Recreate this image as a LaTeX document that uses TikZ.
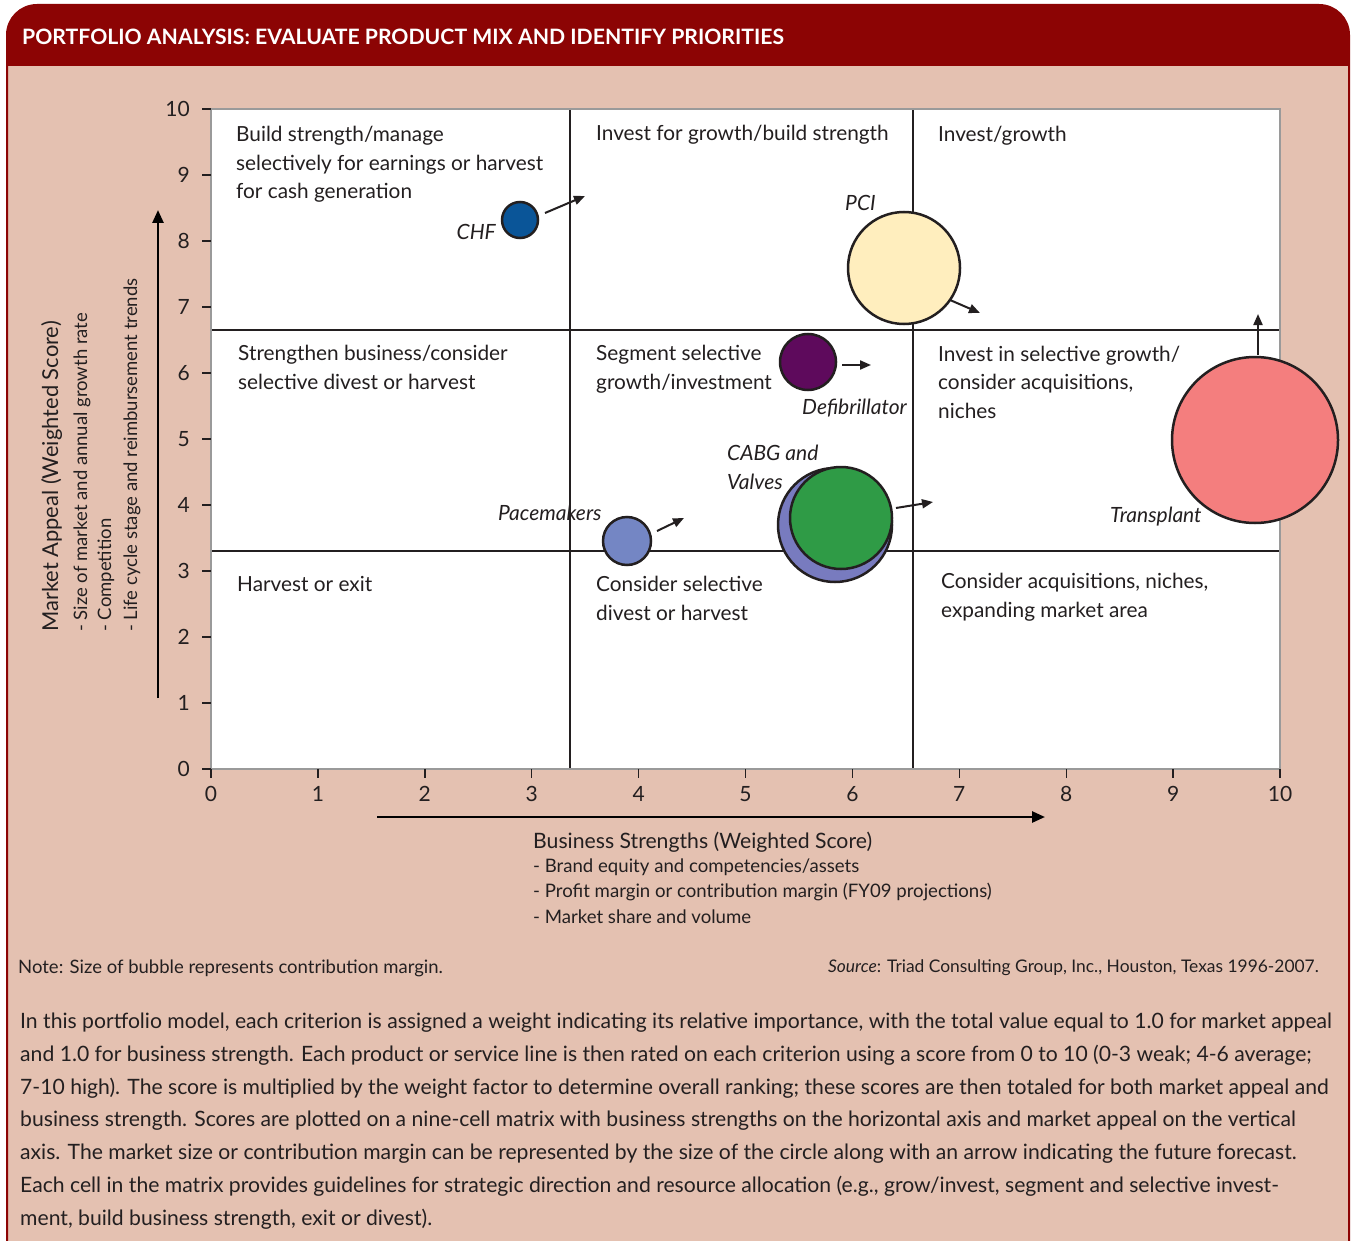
\documentclass[tikz,border=0pt]{standalone}
\usepackage{fontspec}
\setmainfont{Lato}
\usetikzlibrary{arrows.meta}
\definecolor{salmon}{HTML}{E4C1B1}
\definecolor{titlered}{HTML}{8C0404}
\definecolor{ink}{HTML}{231F20}
\definecolor{plotgray}{HTML}{9A9A9A}
\definecolor{chfblue}{HTML}{0A5598}
\definecolor{pciyellow}{HTML}{FFEEBE}
\definecolor{defibpurple}{HTML}{5E0A5C}
\definecolor{paceblue}{HTML}{7486C4}
\definecolor{cabgpurple}{HTML}{787BBF}
\definecolor{cabggreen}{HTML}{2F9B46}
\definecolor{transred}{HTML}{F47E7E}
\newcommand\myfs[2]{\fontsize{#1}{#2}\selectfont}
\tikzset{
  celltext/.style={anchor=base west, align=left, inner sep=0pt, text=ink, font=\myfs{20.8}{28.5}},
  bublabel/.style={anchor=base west, align=left, inner sep=0pt, text=ink, font=\myfs{21}{29}\itshape},
  bubble/.style={circle, draw=ink, line width=2.5pt, inner sep=0pt},
  fcast/.style={draw=ink, line width=2pt, -{Triangle[length=11pt,width=9pt]}},
  axisarrow/.style={draw=black, line width=2.6pt, -{Triangle[length=13pt,width=11pt]}},
  gridline/.style={draw=ink, line width=1.6pt},
  tickmark/.style={draw=ink, line width=1.4pt},
  ticklabel/.style={inner sep=0pt, text=ink, font=\myfs{21}{21}},
  smalltext/.style={anchor=base west, align=left, inner sep=0pt, text=ink},
}
\begin{document}
\begin{tikzpicture}[x=1pt,y=-1pt]
\useasboundingbox (0,0) rectangle (1351,1241);
\fill[white] (0,0) rectangle (1351,1241);
% outer frame
\path[fill=salmon, draw=titlered, line width=2pt] (7,1262) [rounded corners=30pt] -- (7,5) -- (1349,5) [sharp corners] -- (1349,1262);
\fill[titlered] (7,66) [rounded corners=30pt] -- (7,5) -- (1349,5) [sharp corners] -- (1349,66) -- cycle;
\node[anchor=base west, inner sep=0pt, text=white, font=\myfs{21.2}{24}\bfseries] (title) at (22,45) {PORTFOLIO ANALYSIS: EVALUATE PRODUCT MIX AND IDENTIFY PRIORITIES};
% plot area
\fill[white] (211,109) rectangle (1280,769);
\draw[gridline] (570,109) -- (570,769);
\draw[gridline] (913,109) -- (913,769);
\draw[gridline] (211,330) -- (1280,330);
\draw[gridline] (211,551) -- (1280,551);
\draw[draw=plotgray, line width=2.2pt] (211,109) rectangle (1280,769);
% ticks
\foreach \v in {0,...,10} {
  \pgfmathsetmacro{\yy}{769-66*\v}
  \pgfmathsetmacro{\xx}{211+106.9*\v}
  \draw[tickmark] (202,\yy) -- (211,\yy);
  \draw[tickmark] (\xx,769) -- (\xx,778);
  \node[ticklabel, anchor=east] (yl\v) at (190,\yy) {\v};
  \node[ticklabel, anchor=center] (xl\v) at (\xx,794) {\v};
}
% cell texts (anchor = baseline of last line)
\node[celltext] (c11) at (236,199) {Build strength/manage\\selectively for earnings or harvest\\for cash generation};
\node[celltext] (c12) at (596,141) {Invest for growth/build strength};
\node[celltext] (c13) at (938,142) {Invest/growth};
\node[celltext] (c21) at (238,389) {Strengthen business/consider\\selective divest or harvest};
\node[celltext] (c22) at (596,389) {Segment selective\\growth/investment};
\node[celltext] (c23) at (938,418) {Invest in selective growth/\\consider acquisitions,\\niches};
\node[celltext] (c31) at (237,591) {Harvest or exit};
\node[celltext] (c32) at (596,620) {Consider selective\\divest or harvest};
\node[celltext] (c33) at (941,617) {Consider acquisitions, niches,\\expanding market area};
% bubbles
\node[bubble, fill=chfblue, minimum size=36pt] (chf) at (520,220) {};
\node[bubble, fill=pciyellow, minimum size=112pt] (pci) at (904,268) {};
\node[bubble, fill=defibpurple, minimum size=56pt] (defib) at (808,362) {};
\node[bubble, fill=paceblue, minimum size=48pt] (pace) at (627,541) {};
\node[bubble, fill=cabgpurple, minimum size=114pt] (valves) at (835,525) {};
\node[bubble, fill=cabggreen, minimum size=102pt] (cabg) at (841,518) {};
\node[bubble, fill=transred, minimum size=166pt] (trans) at (1255,440) {};
% bubble labels
\node[bublabel, anchor=base east] (chfl) at (496,240) {CHF};
\node[bublabel] (pcil) at (845,211) {PCI};
\node[bublabel] (defibl) at (802,414) {Defibrillator};
\node[bublabel] (pacel) at (498,520) {Pacemakers};
\node[bublabel] (cabgl) at (727,489) {CABG and\\Valves};
\node[bublabel] (transl) at (1110,522) {Transplant};
% forecast arrows
\coordinate (chfA) at (545,213); \coordinate (chfB) at (585,196);
\draw[fcast] (chfA) -- (chfB);
\coordinate (pciA) at (950,300); \coordinate (pciB) at (980,313);
\draw[fcast] (pciA) -- (pciB);
\coordinate (defA) at (842,365); \coordinate (defB) at (871,365);
\draw[fcast] (defA) -- (defB);
\coordinate (paceA) at (657,531); \coordinate (paceB) at (684,518);
\draw[fcast] (paceA) -- (paceB);
\coordinate (cabgA) at (896,508); \coordinate (cabgB) at (933,502);
\draw[fcast] (cabgA) -- (cabgB);
\coordinate (transA) at (1258,355); \coordinate (transB) at (1258,314);
\draw[fcast] (transA) -- (transB);
% axis arrows
\coordinate (yaxA) at (158,698); \coordinate (yaxB) at (158,210);
\draw[axisarrow] (yaxA) -- (yaxB);
\coordinate (xaxA) at (377,817); \coordinate (xaxB) at (1045,817);
\draw[axisarrow] (xaxA) -- (xaxB);
% y axis labels
\node[smalltext, rotate=90, font=\myfs{21.9}{22}] (ylab) at (58,632) {Market Appeal (Weighted Score)};
\node[smalltext, rotate=90, font=\myfs{18.5}{18.5}] (ylab1) at (87,632) {- Size of market and annual growth rate};
\node[smalltext, rotate=90, font=\myfs{18.5}{18.5}] (ylab2) at (111,632) {- Competition};
\node[smalltext, rotate=90, font=\myfs{18.5}{18.5}] (ylab3) at (137,632) {- Life cycle stage and reimbursement trends};
% x axis labels
\node[smalltext, font=\myfs{21.2}{21.2}] (xlab) at (533,848) {Business Strengths (Weighted Score)};
\node[smalltext, font=\myfs{18.6}{25.5}] (xlab1) at (533,923) {- Brand equity and competencies/assets\\- Profit margin or contribution margin (FY09 projections)\\- Market share and volume};
% notes
\node[smalltext, font=\myfs{18.5}{18.5}] (note) at (18,973) {Note: Size of bubble represents contribution margin.};
\node[smalltext, anchor=base east, font=\myfs{17.4}{17.4}] (source) at (1319,972) {\textit{Source}: Triad Consulting Group, Inc., Houston, Texas 1996-2007.};
% body
\node[smalltext, font=\myfs{21.15}{32.7}] (body) at (20,1225) {In this portfolio model, each criterion is assigned a weight indicating its relative importance, with the total value equal to 1.0 for market appeal\\
and 1.0 for business strength. Each product or service line is then rated on each criterion using a score from 0 to 10 (0-3 weak; 4-6 average;\\
7-10 high). The score is multiplied by the weight factor to determine overall ranking; these scores are then totaled for both market appeal and\\
business strength. Scores are plotted on a nine-cell matrix with business strengths on the horizontal axis and market appeal on the vertical\\
axis. The market size or contribution margin can be represented by the size of the circle along with an arrow indicating the future forecast.\\
Each cell in the matrix provides guidelines for strategic direction and resource allocation (e.g., grow/invest, segment and selective invest-\\
ment, build business strength, exit or divest).};
\end{tikzpicture}
\end{document}
